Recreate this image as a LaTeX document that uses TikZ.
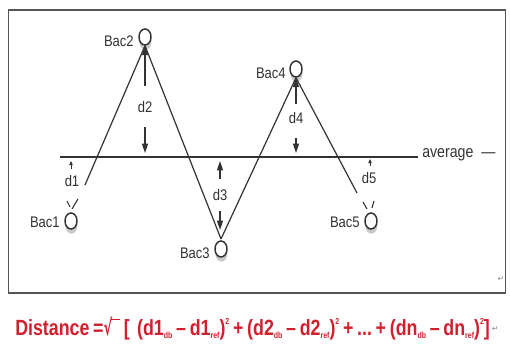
\documentclass[tikz,border=0pt]{standalone}
\usepackage{fontspec}
\usepackage{graphicx}
\setmainfont{Liberation Sans}
\newfontfamily\labfont[FakeStretch=0.85]{Liberation Sans}
\newfontfamily\frmfont[FakeStretch=0.82]{Liberation Sans}
\newfontfamily\symfont{DejaVu Sans}
\usetikzlibrary{shapes.geometric,arrows.meta,shadows}
\definecolor{ink}{HTML}{333333}
\definecolor{frame}{HTML}{555555}
\definecolor{frmred}{HTML}{D0202E}
\newcommand\fsp{\hspace{0.17em}}
\newcommand\fsub[1]{\raisebox{-0.1em}{\fontsize{6.5}{6.5}\selectfont #1}}
\newcommand\fsup[1]{\raisebox{0.5em}{\fontsize{6.5}{6.5}\selectfont #1}}
\newcommand\fsqrt{\scalebox{0.6}[1]{\symfont\bfseries √}\kern-0.04em\rule[0.72em]{0.4em}{0.07em}}
\begin{document}
\begin{tikzpicture}[x=0.75pt,y=-0.75pt,
  bac/.style={ellipse,draw=ink,line width=1.1pt,fill=white,minimum width=9pt,minimum height=12pt,inner sep=0pt,
    drop shadow={shadow xshift=0.3pt,shadow yshift=-3.5pt,opacity=0.3,fill=black!70}},
  lab/.style={font=\labfont\fontsize{11.5}{12}\selectfont,text=ink,inner sep=0pt},
  link/.style={draw=ink,line width=0.9pt},
  darr/.style={draw=ink,line width=0.8pt,-{Triangle[length=7pt,width=4.5pt]}},
  sarr/.style={draw=ink,line width=0.7pt,-{Triangle[length=3pt,width=2.5pt]}},
  tick/.style={draw=ink,line width=0.8pt},
  pmark/.style={font=\symfont\fontsize{6}{6}\selectfont,text=black!45,inner sep=0pt}]
\useasboundingbox (0,0) rectangle (510,360);
% frame
\node[draw=frame,line width=1.4pt,minimum width=372.75pt,minimum height=212.25pt,inner sep=0pt] (box) at (257,151.5) {};
% average line
\coordinate (avL) at (60,157);
\coordinate (avR) at (418,157);
\draw[link,line width=1.1pt] (avL) -- (avR);
\node[lab,anchor=west,font=\labfont\fontsize{12.5}{13}\selectfont] (avg) at (422,155) {average\ \ —};
% bacs
\node[bac] (b1) at (71,221) {};
\node[bac] (b2) at (145,37) {};
\node[bac] (b3) at (221,249) {};
\node[bac] (b4) at (296,69) {};
\node[bac] (b5) at (371,221) {};
\node[lab,anchor=east] (l1) at (60,222) {Bac1};
\node[lab,anchor=east] (l2) at (134,41) {Bac2};
\node[lab,anchor=east] (l3) at (210,253) {Bac3};
\node[lab,anchor=east] (l4) at (286,73) {Bac4};
\node[lab,anchor=east] (l5) at (360,222) {Bac5};
% connecting lines
\coordinate (e1) at (85,185);
\coordinate (e5) at (357,193);
\coordinate (v3) at (221,239);
\draw[link] (b2.south) -- (e1);
\draw[link] (b2.south) -- (v3);
\draw[link] (v3) -- (b4.south);
\draw[link] (b4.south) -- (e5);
% ticks near Bac1 and Bac5
\coordinate (t1a) at (67,201); \coordinate (t1b) at (70,207);
\coordinate (t1c) at (78,199); \coordinate (t1d) at (72,209);
\draw[tick] (t1a) -- (t1b);
\draw[tick] (t1c) -- (t1d);
\coordinate (t5a) at (363,202); \coordinate (t5b) at (367,209);
\coordinate (t5c) at (374,201); \coordinate (t5d) at (372,208);
\draw[tick] (t5a) -- (t5b);
\draw[tick] (t5c) -- (t5d);
% distance labels
\node[lab] (d1) at (72,181) {d1};
\node[lab] (d2) at (145,107) {d2};
\node[lab] (d3) at (220,195) {d3};
\node[lab] (d4) at (296,118) {d4};
\node[lab] (d5) at (369,178) {d5};
% distance arrows
\coordinate (a1s) at (71,169); \coordinate (a1e) at (71,161);
\draw[sarr] (a1s) -- (a1e);
\coordinate (a5s) at (370,166); \coordinate (a5e) at (370,159);
\draw[sarr] (a5s) -- (a5e);
\coordinate (a2u) at (145,86); \coordinate (a2d) at (145,127);
\draw[darr] (a2u) -- (b2.south);
\draw[darr] (a2d) -- (145,153);
\coordinate (a3u) at (220,179); \coordinate (a3d) at (220,211);
\draw[darr] (a3u) -- (220,161);
\draw[darr] (a3d) -- (220,230);
\coordinate (a4u) at (296,104); \coordinate (a4d) at (296,138);
\draw[darr] (a4u) -- (b4.south);
\draw[darr] (a4d) -- (296,153);
% paragraph marks
\node[pmark] (pm1) at (501,279) {↵};
% formula
\node[anchor=west,inner sep=0pt,text=frmred,font=\frmfont\bfseries\fontsize{16.5}{18}\selectfont] (formula) at (15,329)
 {\resizebox{356pt}{\height}{Distance\fsp=\fsqrt\fsp[\fsp\fsp(d1\fsub{db}\fsp–\fsp d1\fsub{ref})\fsup{2}\fsp+\fsp(d2\fsub{db}\fsp–\fsp d2\fsub{ref})\fsup{2}\fsp+\fsp...\fsp+\fsp(dn\fsub{db}\fsp–\fsp dn\fsub{ref})\fsup{2}]}};
\node[pmark,anchor=west] (pm2) at (formula.east) {\,↵};
\end{tikzpicture}
\end{document}
